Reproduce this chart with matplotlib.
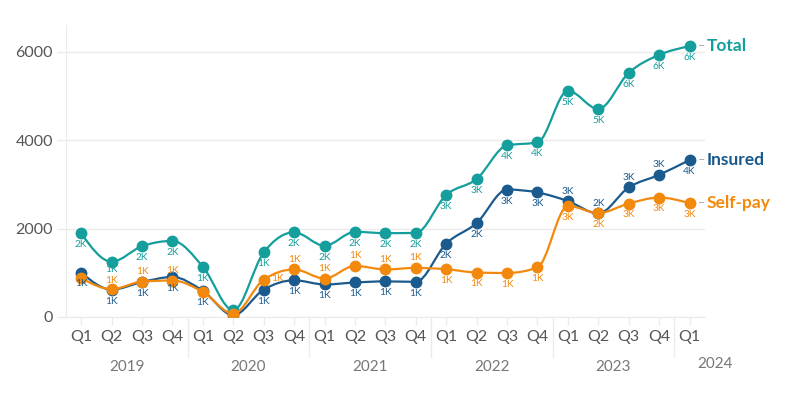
import numpy as np
import matplotlib
matplotlib.use("Agg")
import matplotlib.pyplot as plt
from matplotlib.path import Path
from matplotlib.patches import PathPatch
from matplotlib import transforms

# ----------------------
# data
# ----------------------
quarters = ["Q1", "Q2", "Q3", "Q4"] * 5 + ["Q1"]
years = ["2019", "2020", "2021", "2022", "2023", "2024"]

total = [1890, 1250, 1600, 1720, 1135, 150, 1460, 1915, 1610, 1925, 1895,
         1900, 2760, 3120, 3880, 3945, 5115, 4700, 5520, 5925, 6120]
insured = [1005, 620, 790, 905, 590, 40, 620, 830, 735, 780, 805,
           795, 1660, 2125, 2880, 2815, 2620, 2340, 2930, 3215, 3550]
selfpay = [880, 630, 800, 825, 565, 75, 845, 1075, 870, 1155, 1075,
           1110, 1080, 1005, 995, 1120, 2510, 2350, 2565, 2700, 2570]

# where each value label sits: b=below, a=above, r=right, ""=hidden
total_pos = ["b"] * 5 + [""] + ["b"] * 15
insured_pos = ["b"] * 5 + [""] + ["b"] * 10 + ["a"] * 4 + ["b"]
selfpay_pos = ["", "a", "a", "a", "", "", "r"] + ["a"] * 5 + ["b"] * 9

# small extra vertical nudges (points) for crowded labels
nudge = {("Total", 1): 2.5, ("Self-pay", 1): -1}

C_TOTAL = "#149e9c"
C_INS = "#1b5a8d"
C_SELF = "#f3890c"
GRID = "#ebebeb"

plt.rcParams["font.family"] = ["Lato", "DejaVu Sans"]


def monotone_path(xs, ys):
    """bezier path like d3.curveMonotoneX"""
    xs = np.asarray(xs, float)
    ys = np.asarray(ys, float)
    n = len(xs)
    s = np.diff(ys) / np.diff(xs)
    t = np.zeros(n)
    for i in range(1, n - 1):
        s0, s1 = s[i - 1], s[i]
        p = (s0 + s1) / 2
        t[i] = (np.sign(s0) + np.sign(s1)) * min(abs(s0), abs(s1), 0.5 * abs(p))
    t[0] = (3 * s[0] - t[1]) / 2
    t[-1] = (3 * s[-1] - t[-2]) / 2
    verts = [(xs[0], ys[0])]
    codes = [Path.MOVETO]
    for i in range(n - 1):
        dx = xs[i + 1] - xs[i]
        verts += [(xs[i] + dx / 3, ys[i] + dx * t[i] / 3),
                  (xs[i + 1] - dx / 3, ys[i + 1] - dx * t[i + 1] / 3),
                  (xs[i + 1], ys[i + 1])]
        codes += [Path.CURVE4] * 3
    return Path(verts, codes)


fig = plt.figure(figsize=(8, 4), dpi=100)
ax = fig.add_axes([0.0825, 0.2075, 0.7985, 0.73])

x = np.arange(len(quarters))

series = [
    ("Total", total, total_pos, C_TOTAL),
    ("Insured", insured, insured_pos, C_INS),
    ("Self-pay", selfpay, selfpay_pos, C_SELF),
]

for k, (name, vals, pos, col) in enumerate(series):
    ax.add_patch(PathPatch(monotone_path(x, vals), fill=False, edgecolor=col,
                           lw=1.6, zorder=3 + k, capstyle="round"))
    ax.plot(x, vals, "o", color=col, ms=7.5, zorder=3 + k)
    for i, (xi, v, p) in enumerate(zip(x, vals, pos)):
        if not p:
            continue
        txt = f"{int(v / 1000 + 0.5)}K"
        dy = nudge.get((name, i), 0)
        if p == "b":
            ax.annotate(txt, (xi, v), xytext=(0, -5 + dy), textcoords="offset points",
                        ha="center", va="top", fontsize=7.3, color=col, zorder=10)
        elif p == "a":
            ax.annotate(txt, (xi, v), xytext=(0, 4 + dy), textcoords="offset points",
                        ha="center", va="bottom", fontsize=7.3, color=col, zorder=10)
        else:
            ax.annotate(txt, (xi, v), xytext=(5, 1 + dy), textcoords="offset points",
                        ha="left", va="center", fontsize=7.3, color=col, zorder=10)
    # end label
    ax.annotate("–", (x[-1], vals[-1]), xytext=(6, 0), textcoords="offset points",
                ha="left", va="center", fontsize=9, color="#aaaaaa",
                annotation_clip=False)
    ax.annotate(name, (x[-1], vals[-1]), xytext=(12, 0), textcoords="offset points",
                ha="left", va="center", fontsize=12.5, fontweight="bold",
                color=col, annotation_clip=False)

ax.set_xlim(-0.5, 20.5)
ax.set_ylim(0, 6600)

ax.set_yticks([0, 2000, 4000, 6000])
ax.set_yticklabels(["0", "2000", "4000", "6000"])
ax.grid(axis="y", color=GRID, lw=1, zorder=0)
ax.set_axisbelow(True)

ax.set_xticks(x)
ax.set_xticklabels(quarters)
ax.tick_params(axis="x", length=6, color=GRID, width=1, pad=3,
               labelsize=11.5, labelcolor="#555555")
ax.tick_params(axis="y", length=6.5, color=GRID, width=1, pad=3,
               labelsize=11.5, labelcolor="#555555")

for side in ["top", "right"]:
    ax.spines[side].set_visible(False)
ax.spines["left"].set_color(GRID)
ax.spines["bottom"].set_color(GRID)

# year separators and year labels
blend = transforms.blended_transform_factory(ax.transData, ax.transAxes)
for b in [3.5, 7.5, 11.5, 15.5, 19.5]:
    ax.plot([b, b], [0, -0.137], transform=blend, color=GRID, lw=1, clip_on=False)

year_x = [1.5, 5.5, 9.5, 13.5, 17.5, 20.85]
year_y = [-0.171, -0.171, -0.171, -0.171, -0.171, -0.162]
for yx, yy, lab in zip(year_x, year_y, years):
    ax.text(yx, yy, lab, transform=blend, ha="center", va="center",
            fontsize=11, color="#777777")

fig.savefig("out.png", dpi=100)
